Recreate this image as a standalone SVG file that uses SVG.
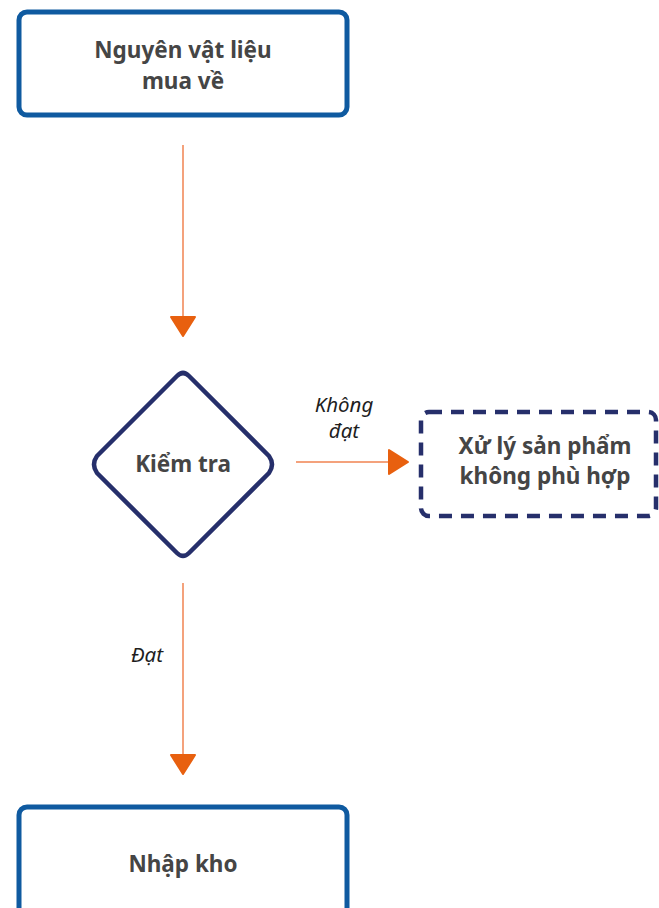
<svg xmlns="http://www.w3.org/2000/svg" width="659" height="908" viewBox="0 0 659 908">
<style>
.box{fill:#fff;stroke:#0f5aa0;stroke-width:5}
.dia{fill:#fff;stroke:#262f6b;stroke-width:4.5;stroke-linejoin:round}
.dash{fill:#fff;stroke:#262f6b;stroke-width:4.5;stroke-dasharray:13 9}
.t{font-family:"Noto Sans","Open Sans",sans-serif;font-weight:bold;font-size:22.5px;fill:#454545;text-anchor:middle}
.lbl{font-family:"Noto Sans","Open Sans",sans-serif;font-style:italic;font-size:20.5px;fill:#1e1e1e;text-anchor:middle}
.ln{stroke:#f4a27c;stroke-width:2;fill:none}
.ah{fill:#e8600f;stroke:#e8600f;stroke-width:2;stroke-linejoin:round}
</style>
<rect width="659" height="908" fill="#fff"/>
<g id="connectors">
<line class="ln" x1="183" y1="145" x2="183" y2="318"/>
<polygon class="ah" points="171,317 195,317 183,336"/>
<line class="ln" x1="296" y1="462" x2="390" y2="462"/>
<polygon class="ah" points="389,450 389,474 408,462"/>
<text class="lbl" x="344" y="412">Không</text>
<text class="lbl" x="344" y="438">đạt</text>
<line class="ln" x1="183" y1="583" x2="183" y2="756"/>
<polygon class="ah" points="171,755 195,755 183,774"/>
<text class="lbl" x="147" y="662">Đạt</text>
</g>
<g id="n1">
<rect class="box" x="19" y="12" width="328" height="103" rx="8"/>
<text class="t" x="183" y="58">Nguyên vật liệu</text>
<text class="t" x="183" y="89">mua về</text>
</g>
<g id="n2">
<path class="dia" d="M177,376 Q183,370 189,376 L269,456 Q275,464.5 269,473 L189,553 Q183,559 177,553 L97,473 Q91,464.5 97,456 Z"/>
<text class="t" x="183" y="472">Kiểm tra</text>
</g>
<g id="n3">
<rect class="dash" x="421" y="412" width="235" height="104" rx="8"/>
<text class="t" x="545" y="454">Xử lý sản phẩm</text>
<text class="t" x="545" y="484">không phù hợp</text>
</g>
<g id="n4">
<rect class="box" x="19" y="807" width="328" height="120" rx="8"/>
<text class="t" x="183" y="872">Nhập kho</text>
</g>
</svg>
